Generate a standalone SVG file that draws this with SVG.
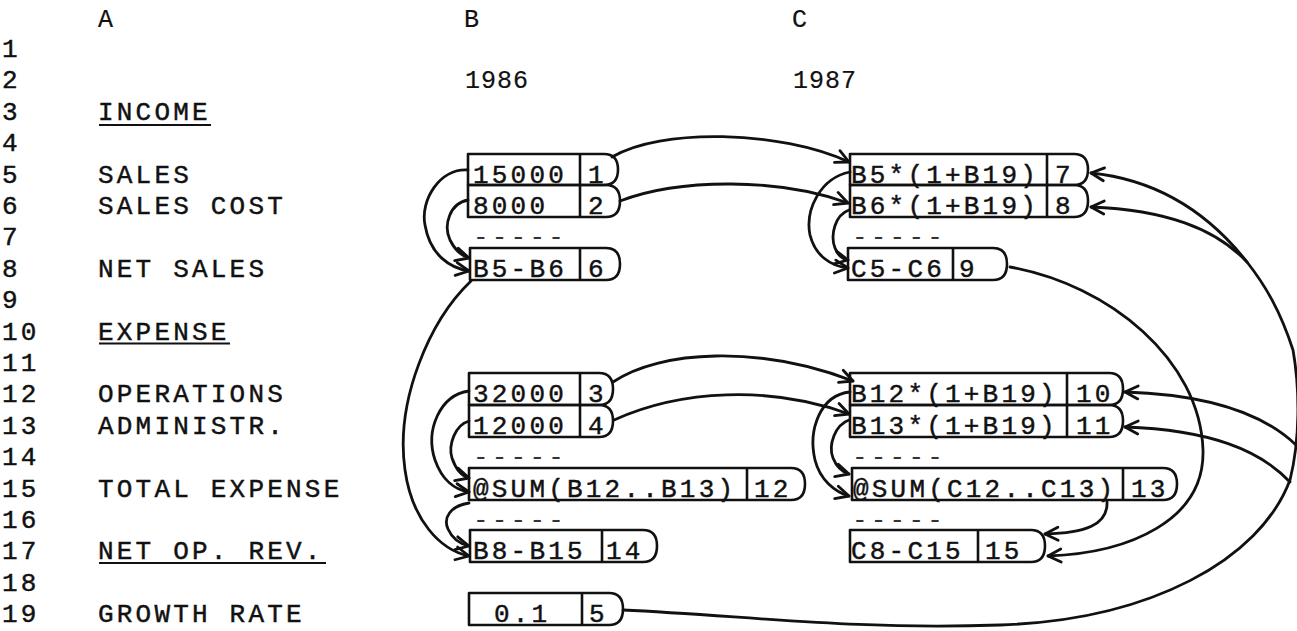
<svg xmlns="http://www.w3.org/2000/svg" width="1297" height="631" viewBox="0 0 1297 631">
<style>
text{font-family:"Liberation Mono","DejaVu Sans Mono",monospace;font-size:26px;letter-spacing:3.2px;fill:#111;stroke:#111;stroke-width:0.45}
.hd{font-size:25px;letter-spacing:1px;stroke-width:0.2}
.dash{fill:#333;stroke:none}
.box{fill:none;stroke:#111;stroke-width:2.6;stroke-linejoin:round}
.con{fill:none;stroke:#111;stroke-width:2.8;stroke-linecap:round;marker-end:url(#ah)}
.ul{stroke:#111;stroke-width:2}
</style>
<defs>
<marker id="ah" markerUnits="userSpaceOnUse" markerWidth="20" markerHeight="20" viewBox="-16 -10 20 20" refX="0" refY="0" orient="auto">
<path d="M-13,-6.5 L0,0 L-13,6.5" fill="none" stroke="#111" stroke-width="2.8" stroke-linecap="round" stroke-linejoin="round"/>
</marker>
</defs>
<rect width="1297" height="631" fill="#fff"/>
<g id="headers">
<text class="hd" x="98" y="27">A</text>
<text class="hd" x="464" y="27">B</text>
<text class="hd" x="792" y="27">C</text>
<text class="hd" x="465" y="88.4">1986</text>
<text class="hd" x="793" y="88.4">1987</text>
</g>
<g id="row-numbers">
<text x="2" y="57">1</text>
<text x="2" y="88.4">2</text>
<text x="2" y="119.8">3</text>
<text x="2" y="151.2">4</text>
<text x="2" y="182.6">5</text>
<text x="2" y="214">6</text>
<text x="2" y="245.4">7</text>
<text x="2" y="276.8">8</text>
<text x="2" y="308.2">9</text>
<text x="2" y="339.6">10</text>
<text x="2" y="371">11</text>
<text x="2" y="402.4">12</text>
<text x="2" y="433.8">13</text>
<text x="2" y="465.2">14</text>
<text x="2" y="496.6">15</text>
<text x="2" y="528">16</text>
<text x="2" y="559.4">17</text>
<text x="2" y="590.8">18</text>
<text x="2" y="622.2">19</text>
</g>
<g id="labels">
<text x="98" y="119.8">INCOME</text>
<line class="ul" x1="99" y1="125" x2="211" y2="125"/>
<text x="98" y="182.6">SALES</text>
<text x="98" y="214">SALES COST</text>
<text x="98" y="276.8">NET SALES</text>
<text x="98" y="339.6">EXPENSE</text>
<line class="ul" x1="99" y1="343.5" x2="230" y2="343.5"/>
<text x="98" y="402.4">OPERATIONS</text>
<text x="98" y="433.8">ADMINISTR.</text>
<text x="98" y="496.6">TOTAL EXPENSE</text>
<text x="98" y="559.4">NET OP. REV.</text>
<line class="ul" x1="99" y1="563" x2="326" y2="563"/>
<text x="98" y="622.2">GROWTH RATE</text>
</g>
<g id="separators">
<text class="dash" x="473" y="245.4">-----</text>
<text class="dash" x="473" y="465.2">-----</text>
<text class="dash" x="473" y="528">-----</text>
<text class="dash" x="852" y="245.4">-----</text>
<text class="dash" x="852" y="465.2">-----</text>
<text class="dash" x="852" y="528">-----</text>
</g>
<g id="cell-B5">
<path class="box" d="M468,154 H604 Q618,154 618,169.5 Q618,185 604,185 H468 Z M580,154 V185"/>
<text x="473" y="182.6">15000</text><text x="588" y="182.6">1</text>
</g>
<g id="cell-B6">
<path class="box" d="M468,185 H606 Q620,185 620,201 Q620,217 606,217 H468 Z M580,185 V217"/>
<text x="473" y="214">8000</text><text x="588" y="214">2</text>
</g>
<g id="cell-B8">
<path class="box" d="M470,248 H606 Q620,248 620,264 Q620,280 606,280 H470 Z M580,248 V280"/>
<text x="473" y="276.8">B5-B6</text><text x="588" y="276.8">6</text>
</g>
<g id="cell-B12">
<path class="box" d="M469,373 H599 Q613,373 613,389 Q613,405 599,405 H469 Z M580,373 V405"/>
<text x="473" y="402.4">32000</text><text x="588" y="402.4">3</text>
</g>
<g id="cell-B13">
<path class="box" d="M469,405 H599 Q613,405 613,421 Q613,437 599,437 H469 Z M580,405 V437"/>
<text x="473" y="433.8">12000</text><text x="588" y="433.8">4</text>
</g>
<g id="cell-B15">
<path class="box" d="M469,468 H791 Q805,468 805,484 Q805,500 791,500 H469 Z M747,468 V500"/>
<text x="473" y="496.6">@SUM(B12..B13)</text><text x="754" y="496.6">12</text>
</g>
<g id="cell-B17">
<path class="box" d="M470,530 H643 Q657,530 657,546 Q657,562 643,562 H470 Z M602,530 V562"/>
<text x="473" y="559.4">B8-B15</text><text x="606" y="559.4">14</text>
</g>
<g id="cell-B19">
<path class="box" d="M469,593 H609 Q623,593 623,609 Q623,625 609,625 H469 Z M582,593 V625"/>
<text x="494" y="622.2">0.1</text><text x="589" y="622.2">5</text>
</g>
<g id="cell-C5">
<path class="box" d="M850,154 H1074 Q1088,154 1088,169.5 Q1088,185 1074,185 H850 Z M1047,154 V185"/>
<text x="851" y="182.6">B5*(1+B19)</text><text x="1055" y="182.6">7</text>
</g>
<g id="cell-C6">
<path class="box" d="M850,185 H1074 Q1088,185 1088,201 Q1088,217 1074,217 H850 Z M1047,185 V217"/>
<text x="851" y="214">B6*(1+B19)</text><text x="1055" y="214">8</text>
</g>
<g id="cell-C8">
<path class="box" d="M848,248 H993 Q1007,248 1007,264 Q1007,280 993,280 H848 Z M953,248 V280"/>
<text x="851" y="276.8">C5-C6</text><text x="959" y="276.8">9</text>
</g>
<g id="cell-C12">
<path class="box" d="M850,373 H1109 Q1123,373 1123,389 Q1123,405 1109,405 H850 Z M1067,373 V405"/>
<text x="851" y="402.4">B12*(1+B19)</text><text x="1076" y="402.4">10</text>
</g>
<g id="cell-C13">
<path class="box" d="M850,405 H1109 Q1123,405 1123,421 Q1123,437 1109,437 H850 Z M1067,405 V437"/>
<text x="851" y="433.8">B13*(1+B19)</text><text x="1076" y="433.8">11</text>
</g>
<g id="cell-C15">
<path class="box" d="M852,468 H1163 Q1177,468 1177,484 Q1177,500 1163,500 H852 Z M1123,468 V500"/>
<text x="853" y="496.6">@SUM(C12..C13)</text><text x="1131" y="496.6">13</text>
</g>
<g id="cell-C17">
<path class="box" d="M850,530 H1031 Q1045,530 1045,546 Q1045,562 1031,562 H850 Z M978,530 V562"/>
<text x="851" y="559.4">C8-C15</text><text x="985" y="559.4">15</text>
</g>
<g id="connectors">
<path class="con" d="M612,157 C660,128 780,130 849,162"/>
<path class="con" d="M620,201 C680,178 780,178 848,203"/>
<path class="con" d="M468,170 C440,168 420,200 425,225 C430,255 450,268 469,271"/>
<path class="con" d="M468,200 C450,203 443,225 450,240 C455,250 462,256 469,258"/>
<path class="con" d="M471,281 C430,320 395,400 405,470 C412,520 440,550 469,556"/>
<path class="con" d="M613,382 C660,350 760,345 853,381"/>
<path class="con" d="M614,420 C680,390 770,385 849,414"/>
<path class="con" d="M469,391 C440,395 425,430 435,460 C442,480 455,490 469,492"/>
<path class="con" d="M469,421 C455,425 448,445 452,458 C456,470 462,476 469,478"/>
<path class="con" d="M469,503 C450,506 443,518 448,529 C452,538 460,544 469,546"/>
<path class="con" d="M850,172 C820,178 805,210 810,235 C815,255 830,266 848,268"/>
<path class="con" d="M849,210 C835,215 830,235 835,248 C838,256 843,259 848,260"/>
<path class="con" d="M850,392 C820,395 808,430 815,460 C820,480 835,492 849,496"/>
<path class="con" d="M849,420 C835,425 828,445 833,458 C837,468 842,472 849,474"/>
<path class="con" d="M1010,267 C1110,285 1200,360 1203,450 C1205,520 1130,553 1048,556"/>
<path class="con" d="M1107,502 C1108,525 1085,533 1045,534"/>
<path class="con" d="M623,610 C750,616 850,630 1000,625 C1150,620 1260,560 1290,480 C1300,440 1300,390 1293,350 C1280,310 1265,285 1247,262 C1210,215 1160,180 1091,173"/>
<path class="con" d="M1247,262 C1215,228 1165,210 1091,207"/>
<path class="con" d="M1296,445 C1270,420 1220,395 1125,392"/>
<path class="con" d="M1290,482 C1260,450 1210,430 1125,427"/>
</g>
</svg>
